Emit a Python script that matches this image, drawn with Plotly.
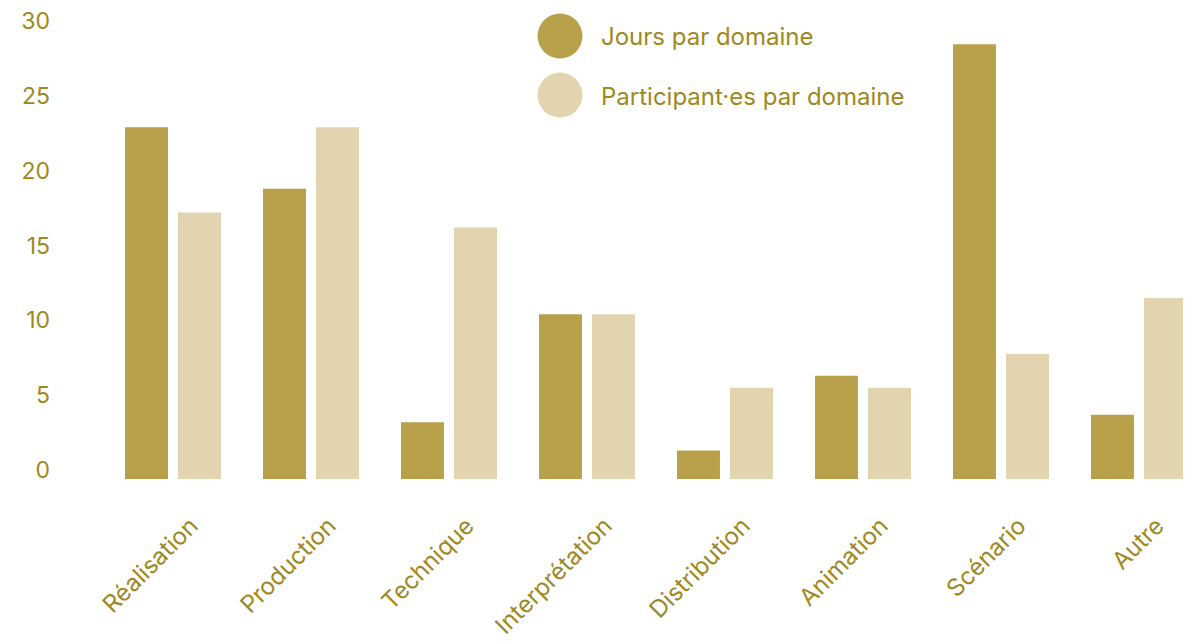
import plotly.graph_objects as go

categories = ["Réalisation", "Production", "Technique", "Interprétation",
              "Distribution", "Animation", "Scénario", "Autre"]
jours = [23.5, 19.4, 3.8, 11.0, 1.9, 6.9, 29.05, 4.3]
participants = [17.8, 23.5, 16.8, 11.0, 6.1, 6.1, 8.35, 12.1]
series_names = ["Jours par domaine", "Participant·es par domaine"]
y_ticks = [0, 5, 10, 15, 20, 25, 30]

DARK = "#B9A14C"
LIGHT = "#E2D4AF"
TEXT = "#9E8820"
FONT = "Inter"

# page body has an 8px margin; the figure is placed at (8, 8)
OFF = 8
W, H = 1191 - OFF, 641 - OFF
ML, MR, MT = 104 - OFF, 0, 30 - OFF
MB = H - (479 - OFF)

fig = go.Figure()
fig.add_trace(go.Bar(x=categories, y=jours, name=series_names[0],
                     marker=dict(color=DARK, line=dict(width=0)), showlegend=False))
fig.add_trace(go.Bar(x=categories, y=participants, name=series_names[1],
                     marker=dict(color=LIGHT, line=dict(width=0)), showlegend=False))

pw = W - ML - MR
ph = H - MT - MB
def px_to_paper(x, y):
    # x, y are screen pixels
    return (x - OFF - ML) / pw, (H - MB - (y - OFF)) / ph

for i, (name, col) in enumerate(zip(series_names, [DARK, LIGHT])):
    cy = 36 + i * 59
    cx_p, cy_p = px_to_paper(560, cy)
    fig.add_shape(type="circle", xref="paper", yref="paper",
                  xsizemode="pixel", ysizemode="pixel",
                  xanchor=cx_p, yanchor=cy_p,
                  x0=-22.5, x1=22.5, y0=-22.5, y1=22.5,
                  fillcolor=col, line=dict(width=0))
    tx, ty = px_to_paper(599, cy + 1)
    fig.add_annotation(x=tx, y=ty, xref="paper", yref="paper",
                       text=name, showarrow=False, xanchor="left", yanchor="middle",
                       font=dict(family=FONT, size=24, color=TEXT))

fig.update_layout(
    width=W, height=H,
    margin=dict(l=ML, r=MR, t=MT, b=MB, autoexpand=False),
    plot_bgcolor="white", paper_bgcolor="white",
    barmode="group", bargap=0.232, bargroupgap=0.189,
    font=dict(family=FONT, size=22, color=TEXT),
    showlegend=False,
)
fig.update_xaxes(range=[-0.5, 7.377], tickangle=-45, showgrid=False, showline=False,
                 zeroline=False, ticks="", ticklabelstandoff=27, ticklabelshift=18,
                 ticklabeloverflow="allow",
                 tickfont=dict(family=FONT, size=24, color=TEXT))
fig.update_yaxes(range=[0, 30], tickvals=y_ticks, showgrid=False, zeroline=False,
                 showline=False, ticks="", ticklabelposition="outside",
                 ticklabelstandoff=53, ticklabelshift=-9,
                 ticklabeloverflow="allow",
                 tickfont=dict(family=FONT, size=23, color=TEXT))

fig.write_html("out.html")
